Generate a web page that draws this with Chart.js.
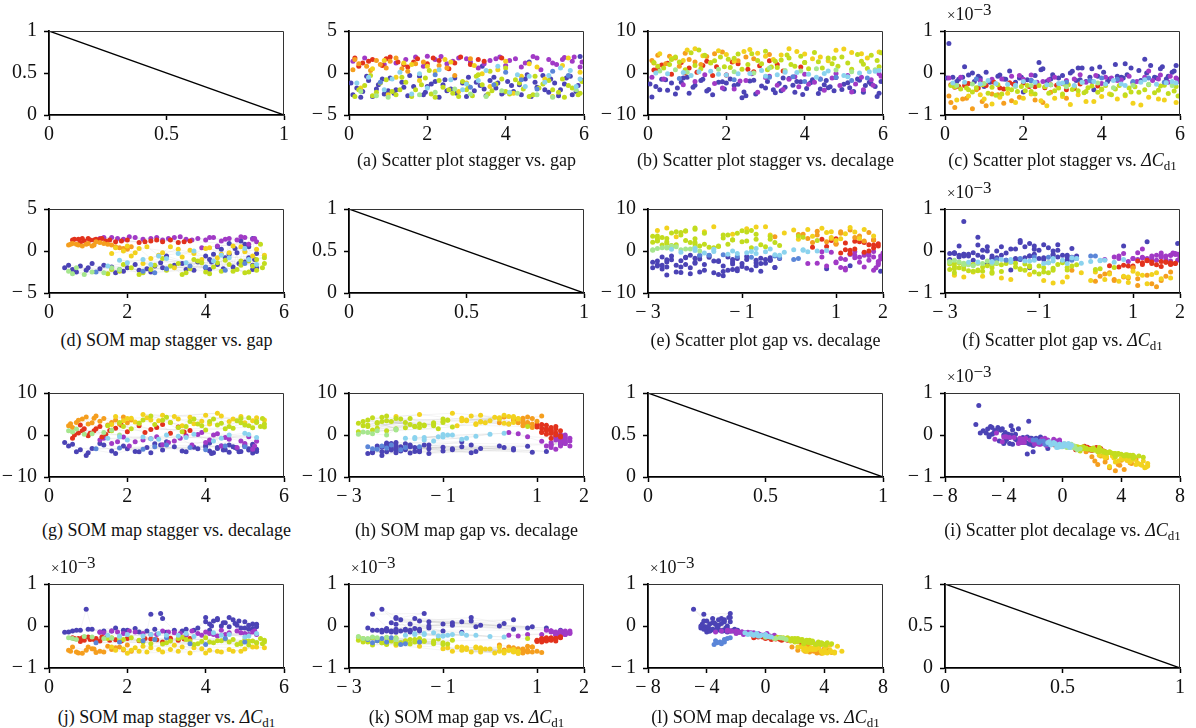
<!DOCTYPE html>
<html>
<head>
<meta charset="utf-8">
<script src="https://cdn.jsdelivr.net/npm/chart.js@4/dist/chart.umd.min.js"></script>
<style>
html,body{margin:0;padding:0;background:#fff;}
#fig{position:relative;width:1196px;height:728px;overflow:hidden;font-family:"Liberation Serif",serif;color:#111;}
#fig canvas{position:absolute;}
.cap{position:absolute;width:320px;text-align:center;font-size:18px;line-height:20px;white-space:nowrap;}
.cap sub{font-size:13px;vertical-align:-4px;line-height:0;}
.exp{position:absolute;font-size:18px;line-height:18px;white-space:nowrap;}
.exp .times{font-size:15px;}
.exp sup{font-size:17px;position:relative;top:-5px;vertical-align:baseline;}
</style>
</head>
<body>
<div id="fig"></div>
<script>
// Tick values for each variable axis
const staggerTicks = [0, 2, 4, 6];
const gapTicks = [-3, -1, 1, 2];
const gapYTicks = [-5, 0, 5];
const decalageYTicks = [-10, 0, 10];
const decalageXTicks = [-8, -4, 0, 4, 8];
const dcdTicks = [-1, 0, 1];          // ΔCd1 in units of 1e-3
const unitTicks = [0, 0.5, 1];

// Diagonal reference line
const diagX = [0, 1];
const diagY = [1, 0];

// Design samples by cluster: [stagger, gap, decalage, ΔCd1 (×1e-3)]
const scatterBlue = [
  [0.1,-2.6,-5.7,0.70],[0.2,-1.8,-3.2,-0.10],[0.35,-2.2,-1.5,-0.15],[0.5,-0.9,-4.1,0.15],
  [0.6,-2.8,-2.4,-0.05],[0.75,-1.4,-3.6,-0.20],[0.9,-2.5,-1.2,-0.12],[1.05,-0.6,-4.8,0.02],
  [1.2,-2.0,-2.9,-0.18],[1.35,-1.1,-1.8,-0.08],[1.5,-2.7,-4.3,-0.14],[1.65,-1.6,-5.2,0.05],
  [1.8,-0.4,-2.2,-0.22],[1.95,-2.3,-3.8,-0.10],[2.1,-1.3,-1.4,-0.16],[2.3,-2.9,-2.7,-0.06],
  [2.45,-0.8,-4.5,0.08],[2.6,-1.9,-1.9,-0.20],[2.75,-2.4,-5.0,-0.04],[2.9,-1.2,-3.1,-0.12],
  [3.05,-0.5,-2.0,-0.25],[3.2,-2.1,-4.0,0.00],[3.35,-1.5,-2.5,-0.18],[3.5,-2.7,-3.4,0.12],
  [3.6,-0.9,-1.3,-0.20],[3.75,-1.8,-4.6,0.10],[3.9,-2.5,-2.1,-0.08],[4.05,-1.0,-3.7,0.02],
  [4.2,-2.2,-1.6,-0.14],[4.35,-1.4,-4.9,0.20],[4.5,-0.7,-2.8,-0.10],[4.65,-2.8,-3.3,-0.04],
  [4.8,-1.7,-1.1,-0.22],[4.95,-0.3,-3.9,0.06],[5.1,-2.3,-2.3,0.33],[5.25,-1.2,-4.4,0.18],
  [5.4,-2.0,-1.7,-0.12],[5.55,-0.6,-3.0,0.15],[5.7,-2.6,-2.6,-0.08],[5.85,-1.5,-5.6,0.05],
  [5.95,-0.9,-2.0,-0.16],[2.0,-1.6,-2.4,-0.45],[4.6,1.3,-3.5,0.22],[3.4,0.8,-4.2,0.12],
  [5.9,1.95,-4.8,0.18],
  [0.05,-1.2,-2.6,-0.12],[0.3,-2.9,-4.0,-0.20],[0.45,-0.4,-1.6,-0.10],[0.7,-1.9,-5.0,0.00],
  [0.85,-0.7,-2.2,-0.08],[1.15,-2.4,-3.4,-0.22],[1.4,-1.7,-1.5,-0.05],[1.55,-0.3,-3.9,-0.15],
  [1.9,-2.6,-2.1,-0.12],[2.2,-1.0,-3.0,-0.18],[2.5,-2.1,-5.4,0.10],[2.7,-0.6,-1.7,-0.14],
  [3.0,-2.8,-3.6,-0.06],[3.25,-1.1,-4.7,0.04],[3.45,-1.9,-1.2,-0.16],[3.7,-0.5,-2.9,-0.10],
  [3.95,-2.3,-5.1,0.14],[4.15,-1.5,-2.3,-0.20],[4.4,-2.6,-3.8,-0.08],[4.55,-0.2,-1.8,-0.12],
  [4.75,-1.1,-4.2,0.12],[5.0,-2.0,-2.7,-0.18],[5.15,-0.7,-3.5,0.00],[5.35,-2.7,-1.4,-0.10],
  [5.5,-1.3,-4.6,0.10],[5.65,-0.4,-2.2,-0.14],[5.8,-2.2,-3.2,0.02],[2.4,-1.4,-5.9,0.25],
  [1.0,-2.1,-1.0,-0.32],[3.8,-1.2,-2.0,-0.40]
];
const scatterViolet = [
  [0.1,1.4,-1.0,-0.12],[1.7,1.9,-2.5,-0.08],[2.0,2.0,-0.5,-0.15],[2.2,1.6,-3.8,-0.05],
  [2.5,1.1,-1.8,-0.20],[2.8,1.8,-4.6,-0.10],[3.1,1.3,-0.8,-0.18],[3.3,0.6,-2.9,-0.14],
  [3.6,1.5,-1.5,-0.22],[3.85,1.9,-3.3,-0.06],[4.0,0.9,-0.3,-0.25],[4.25,1.7,-2.2,-0.12],
  [4.5,1.2,-4.1,-0.16],[4.7,1.95,-1.2,-0.08],[4.9,0.4,-3.0,-0.20],[5.1,1.6,-0.6,-0.10],
  [5.3,1.0,-2.6,-0.18],[5.5,1.85,-4.0,-0.05],[5.7,1.4,-1.6,-0.22],[5.9,0.7,-0.2,-0.12],
  [1.2,1.2,-2.0,-0.15],[3.0,1.7,-1.1,-0.25],
  [0.4,1.8,-1.4,-0.10],[0.9,1.0,-2.8,-0.18],[1.45,1.6,-0.4,-0.14],[1.9,0.8,-3.6,-0.06],
  [2.35,1.95,-1.9,-0.22],[2.65,1.4,-0.2,-0.16],[3.45,1.1,-3.9,-0.04],[3.75,1.7,-0.9,-0.20],
  [4.1,1.5,-2.7,-0.10],[4.4,0.7,-1.4,-0.18],[4.8,1.8,-0.1,-0.24],[5.2,1.2,-4.5,0.05],
  [5.45,1.6,-1.0,-0.14],[5.75,1.9,-2.9,-0.08],[5.95,1.3,-0.8,-0.20]
];
const scatterCyan = [
  [0.5,-0.5,-0.2,-0.22],[1.3,0.1,0.3,-0.25],[2.0,-1.8,-0.5,-0.20],[2.6,-0.8,-0.1,-0.28],
  [3.0,-1.3,-0.8,-0.24],[3.5,0.3,0.2,-0.22],[4.1,-2.3,-0.3,-0.26],[4.6,-0.4,0.5,-0.30],
  [5.0,-1.1,-0.6,-0.22],[5.4,0.6,0.0,-0.27],[5.8,-1.6,0.4,-0.20],[0.9,-2.0,0.1,-0.26],
  [4.3,-0.2,-1.0,-0.18],[5.9,-0.7,0.6,-0.24],[1.8,-0.1,-0.3,-0.29],
  [0.2,-1.2,0.0,-0.24],[1.1,-0.7,-0.6,-0.18],[1.6,-2.5,0.4,-0.27],[2.3,0.4,-0.2,-0.22],
  [2.9,-2.0,0.6,-0.25],[3.3,-0.9,-0.4,-0.30],[3.8,0.8,0.1,-0.20],[4.5,-1.6,-0.1,-0.26],
  [5.1,-0.3,-0.9,-0.16],[5.65,0.3,0.3,-0.23]
];
const scatterMidBlue = [
  [4.4,-0.8,-1.5,-0.15],[4.8,-1.9,-1.0,-0.20],[5.2,0.2,-1.8,-0.12],[3.7,-1.4,-0.9,-0.18],
  [5.6,-0.3,-1.2,-0.22],[0.8,-1.1,-1.3,-0.14],[2.2,-0.2,-1.6,-0.18],[3.1,-1.7,-1.0,-0.22],
  [4.0,0.1,-2.0,-0.12]
];
const scatterPaleGreen = [
  [0.3,-2.2,0.5,-0.30],[1.0,-2.9,0.2,-0.25],[1.8,-2.6,0.9,-0.32],[2.7,-1.9,0.0,-0.28],
  [3.5,-2.8,0.6,-0.22],[4.3,-2.4,1.0,-0.35],[5.2,-2.9,0.3,-0.27],[5.8,-2.0,0.8,-0.30],
  [0.7,-2.7,0.8,-0.26],[2.2,-2.3,0.3,-0.30],[3.1,-2.5,1.2,-0.33],[3.9,-2.1,0.5,-0.24],
  [4.8,-2.6,0.7,-0.29]
];
const scatterLime = [
  [0.15,-2.8,2.5,-0.30],[0.4,-1.5,1.2,-0.38],[0.7,-2.3,3.8,-0.45],[0.95,-0.8,0.8,-0.28],
  [1.2,-2.6,1.8,-0.34],[1.45,-1.1,4.2,-0.50],[1.7,-2.0,2.9,-0.40],[1.95,-0.6,1.5,-0.32],
  [2.2,-2.9,3.5,-0.44],[2.4,-1.7,0.9,-0.30],[2.65,-2.4,4.6,-0.48],[2.9,-1.0,2.2,-0.36],
  [3.15,-2.7,1.4,-0.28],[3.4,-1.4,3.1,-0.42],[3.65,-2.1,2.0,-0.35],[3.9,-0.7,4.0,-0.46],
  [4.1,-2.5,1.0,-0.30],[4.35,-1.2,2.7,-0.38],[4.6,-2.8,3.6,-0.52],[4.85,-1.8,1.6,-0.33],
  [5.1,-0.9,2.4,-0.40],[5.35,-2.3,4.4,-0.47],[5.6,-1.5,1.1,-0.29],[5.85,-2.6,3.0,-0.43],
  [5.95,-1.0,4.8,-0.55],[0.55,-0.3,2.0,-0.36],[2.05,0.3,3.3,-0.42],[3.0,-2.0,5.2,-0.50],
  [4.0,0.6,2.5,-0.39],[4.75,-0.4,3.5,-0.45],[5.5,-2.9,2.1,-0.31],[1.3,-2.0,5.5,-0.53],
  [3.3,-0.2,1.3,-0.33],
  [0.25,-2.0,1.6,-0.33],[0.6,-2.7,3.2,-0.40],[0.8,-1.2,2.6,-0.35],[1.1,-2.2,4.8,-0.48],
  [1.35,-0.5,1.0,-0.28],[1.6,-2.8,2.4,-0.37],[1.85,-1.4,3.8,-0.44],[2.1,-2.5,1.3,-0.30],
  [2.3,-0.9,4.5,-0.50],[2.55,-2.0,2.0,-0.33],[2.8,-2.8,3.0,-0.42],[3.05,-1.6,0.8,-0.27],
  [3.25,-0.4,2.8,-0.39],[3.55,-2.5,4.3,-0.47],[3.75,-1.3,1.6,-0.31],[4.0,-2.2,2.5,-0.38],
  [4.25,-0.8,4.9,-0.52],[4.45,-1.9,1.2,-0.30],[4.7,-2.6,2.2,-0.36],[4.95,-1.3,3.8,-0.46],
  [5.2,-2.0,0.9,-0.28],[5.45,-0.7,2.8,-0.41],[5.7,-1.8,4.2,-0.49],[5.9,-2.4,1.5,-0.32],
  [3.6,0.2,3.6,-0.44]
];
const scatterYellow = [
  [0.6,0.5,3.5,-0.55],[1.0,-2.6,5.5,-0.62],[1.4,1.2,4.1,-0.58],[1.8,-0.9,5.3,-0.70],
  [2.2,0.2,2.8,-0.50],[2.45,1.6,5.1,-0.66],[2.8,-2.2,4.7,-0.60],[3.2,0.9,3.2,-0.75],
  [3.6,-1.6,5.8,-0.68],[4.0,1.4,4.5,-0.56],[4.4,-0.4,3.8,-0.62],[4.8,0.7,5.4,-0.72],
  [5.2,-2.8,4.9,-0.58],[5.6,1.8,3.6,-0.64],[5.9,0.1,5.0,-0.70],[1.6,1.0,2.5,-0.48],
  [3.4,-0.1,4.3,-0.52],[2.6,1.3,5.6,-0.78],
  [0.3,-1.8,4.6,-0.64],[0.9,1.5,3.0,-0.52],[1.2,-0.5,5.8,-0.74],[2.0,0.8,4.4,-0.60],
  [3.0,-1.2,4.0,-0.56],[3.8,0.4,5.1,-0.68],[4.2,-2.4,3.4,-0.50],[4.6,1.1,2.9,-0.54],
  [5.0,-0.7,5.7,-0.76],[5.45,0.9,4.6,-0.62]
];
const scatterOrange = [
  [0.1,0.4,3.0,-0.55],[0.25,1.1,4.2,-0.82],[0.45,0.8,2.2,-0.62],[0.7,1.5,3.6,-0.85],
  [0.95,0.6,4.7,-0.68],[1.2,1.8,2.6,-0.50],[1.5,0.2,3.9,-0.72],[1.9,1.3,5.0,-0.58],
  [2.3,0.9,2.9,-0.64],[2.7,-0.3,3.4,-0.46],[3.1,1.7,4.4,-0.60],[0.8,1.0,1.6,-0.40],
  [0.15,1.6,2.4,-0.70],[0.55,0.3,4.0,-0.60],[1.05,1.4,3.2,-0.78],[1.35,0.5,2.0,-0.52],
  [1.7,1.1,4.6,-0.66],[2.5,0.6,3.8,-0.70]
];
const scatterRed = [
  [0.15,1.8,0.7,-0.28],[0.35,1.2,1.9,-0.32],[0.6,1.6,-0.3,-0.25],[0.85,0.9,2.5,-0.36],
  [1.05,1.9,1.2,-0.30],[1.25,1.3,0.2,-0.22],[1.5,0.7,2.8,-0.38],[1.75,1.7,1.5,-0.27],
  [2.0,1.1,-0.5,-0.24],[2.3,1.5,2.2,-0.33],[2.55,0.5,0.9,-0.35],[2.85,1.9,1.7,-0.29],
  [3.1,1.0,2.9,-0.40],[3.45,1.4,0.5,-0.26],[3.9,1.8,1.4,-0.31],
  [0.25,0.8,1.1,-0.34],[0.5,1.4,2.3,-0.30],[0.95,1.7,0.0,-0.26],[1.4,1.0,1.8,-0.36],
  [1.65,1.3,-0.6,-0.23],[2.15,1.8,2.6,-0.32],[2.7,1.2,0.3,-0.28],[3.3,1.6,2.0,-0.37]
];

// SOM node weights by cluster: [stagger, gap, decalage, ΔCd1 (×1e-3)]
const somBlue = [
  [0.4,-2.0,-1.8,-0.15],[0.6,-2.2,-2.2,-0.12],[0.8,-1.8,-3.5,-0.10],[0.95,-2.3,-4.9,0.40],
  [1.1,-1.5,-3.2,-0.08],[1.3,-2.1,-2.0,-0.14],[1.6,-1.9,-3.8,-0.12],[1.9,-2.4,-2.6,-0.10],
  [2.2,-1.6,-3.9,-0.06],[2.5,-2.1,-3.0,-0.12],[2.6,-2.5,-4.2,0.28],[2.85,-1.4,-2.4,0.30],
  [2.9,-2.0,-3.6,0.18],[3.2,-1.7,-2.8,-0.10],[3.5,-2.2,-4.0,-0.08],[3.8,-1.3,-3.3,-0.05],
  [4.0,-2.0,-2.5,0.20],[4.1,-1.0,-3.8,0.05],[4.2,-0.4,-4.2,0.12],[4.3,-1.6,-3.0,0.18],
  [4.4,0.2,-2.6,0.00],[4.5,-0.8,-3.5,0.08],[4.6,0.9,-4.1,-0.02],[4.7,-1.9,-2.8,0.15],
  [4.8,-0.2,-3.2,0.02],[4.9,1.2,-3.9,-0.05],[5.0,-1.3,-2.4,0.10],[5.1,0.5,-3.6,-0.08],
  [5.2,-1.7,-4.3,0.05],[5.25,-1.0,-2.9,-0.12],[5.3,-2.0,-3.4,0.04],[5.2,1.5,-2.2,-0.10],
  [4.1,-2.2,-1.9,-0.10],[3.0,-0.6,-1.6,-0.15],[1.7,-2.6,-4.4,-0.05],
  [0.5,-1.7,-2.6,-0.14],[0.7,-2.5,-4.0,-0.10],[1.0,-2.0,-4.2,-0.08],[1.4,-1.7,-2.4,-0.12],
  [2.0,-2.0,-3.3,-0.10],[2.3,-2.3,-4.0,-0.14],[2.7,-1.8,-2.1,-0.08],[3.4,-1.5,-3.8,-0.12],
  [3.7,-2.3,-2.9,-0.10],[4.0,-0.6,-2.8,0.10],[4.15,-1.3,-4.4,0.00],[4.3,0.5,-3.2,0.15],
  [4.45,-2.1,-3.6,0.08],[4.6,-0.4,-2.4,0.20],[4.75,0.3,-3.0,0.06],[4.85,-1.5,-4.0,0.12],
  [5.0,0.8,-2.7,-0.05],[5.1,-0.8,-3.3,0.02],[5.2,-2.2,-2.6,-0.06],[5.3,-0.3,-3.9,-0.02]
];
const somMidBlue = [
  [2.4,-2.4,-3.4,-0.35],[3.6,-1.8,-3.0,-0.42],[4.5,-2.3,-2.6,-0.30],[1.2,-2.5,-3.3,-0.40],
  [5.0,-1.5,-2.8,-0.38],[3.0,-2.1,-2.4,-0.28],[1.8,-2.2,-3.1,-0.38],[4.0,-1.9,-3.5,-0.44],
  [2.7,-2.6,-2.8,-0.32]
];
const somCyan = [
  [1.5,-1.8,-0.8,-0.22],[2.0,-1.4,-1.2,-0.20],[2.4,-1.0,-0.5,-0.24],[2.8,-0.6,-1.0,-0.18],
  [3.3,-0.3,-0.3,-0.22],[3.7,0.0,0.2,-0.25],[4.2,-1.2,-1.4,-0.16],[4.6,-0.8,0.0,-0.20],
  [5.0,0.3,0.4,-0.26],[5.3,-1.6,-0.6,-0.18],
  [1.8,-1.1,-0.4,-0.24],[2.6,-1.6,-0.9,-0.20],[3.0,-0.9,0.0,-0.22],[3.5,-1.4,-0.6,-0.18],
  [4.4,-0.5,-0.8,-0.22],[5.1,-1.0,0.1,-0.24]
];
const somPaleGreen = [
  [0.5,-2.4,1.0,-0.28],[0.9,-2.8,0.2,-0.25],[1.4,-2.6,0.6,-0.30],[0.7,-2.0,1.4,-0.32],
  [1.8,-2.2,0.0,-0.27],[1.1,-2.5,0.3,-0.26],[0.6,-2.7,0.7,-0.30],[1.6,-2.0,1.2,-0.29]
];
const somLime = [
  [1.5,-2.7,2.2,-0.30],[1.8,-2.4,3.0,-0.34],[2.1,-2.0,1.5,-0.28],[2.4,-2.6,3.6,-0.38],
  [2.7,-1.7,2.5,-0.32],[3.0,-2.3,4.2,-0.40],[3.3,-1.5,1.8,-0.30],[3.6,-2.1,3.2,-0.36],
  [3.8,-1.2,2.6,-0.42],[4.0,-2.5,1.2,-0.28],[4.2,-1.9,3.8,-0.40],[4.4,-2.4,2.8,-0.35],
  [4.6,-1.6,2.0,-0.38],[4.8,-2.2,3.4,-0.44],[5.0,-2.6,2.4,-0.33],[5.2,-1.8,1.7,-0.36],
  [5.3,-1.0,3.0,-0.40],[5.45,-2.0,3.9,-0.42],[4.5,-1.1,1.5,-0.31],[3.4,-2.8,0.8,-0.27],
  [2.9,-0.9,3.5,-0.43],[5.1,-2.5,4.1,-0.45],[3.9,-1.4,2.2,-0.37],[4.9,-1.2,2.9,-0.39],
  [5.5,-0.8,1.9,-0.34],
  [1.6,-2.2,1.0,-0.28],[1.9,-1.6,2.0,-0.32],[2.3,-2.8,2.8,-0.34],[2.6,-2.2,4.5,-0.42],
  [3.1,-1.8,3.0,-0.36],[3.5,-2.6,2.0,-0.32],[3.7,-1.0,3.8,-0.44],[4.1,-2.7,3.2,-0.38],
  [4.3,-1.4,2.4,-0.35],[4.7,-2.4,1.6,-0.32],[4.9,-1.7,3.9,-0.43],[5.1,-1.2,2.2,-0.36],
  [5.3,-2.3,3.2,-0.40],[5.5,-1.5,2.6,-0.38],[5.4,0.8,2.0,-0.30]
];
const somYellow = [
  [1.6,-0.3,2.5,-0.50],[1.9,0.0,3.4,-0.55],[2.1,-0.6,4.0,-0.58],[2.3,0.3,2.8,-0.60],
  [2.6,-0.9,3.6,-0.52],[2.9,-0.2,4.7,-0.62],[3.1,0.5,3.0,-0.56],[3.4,-0.7,2.2,-0.50],
  [3.6,0.1,4.2,-0.64],[3.9,-1.0,3.3,-0.54],[4.1,0.4,2.6,-0.58],[4.4,-0.4,4.5,-0.62],
  [4.7,0.6,3.8,-0.60],[5.0,-0.1,2.9,-0.55],[5.3,0.2,4.1,-0.50],[5.5,-0.5,3.6,-0.52],
  [2.4,-1.5,4.9,-0.48],[3.2,-2.0,4.4,-0.46],[4.3,-0.8,5.2,-0.60],[2.0,0.6,3.9,-0.65],
  [1.7,0.4,4.4,-0.58],[2.2,-0.2,3.1,-0.52],[2.5,0.5,4.1,-0.62],[2.8,-0.5,3.4,-0.56],
  [3.3,0.2,3.8,-0.60],[3.7,-0.3,2.7,-0.52],[4.0,0.3,4.7,-0.64],[4.6,-0.2,3.2,-0.56],
  [4.9,0.5,4.4,-0.60],[5.2,-0.6,3.4,-0.50]
];
const somOrange = [
  [0.5,0.7,2.2,-0.58],[0.7,0.8,3.0,-0.62],[0.85,0.6,3.8,-0.65],[1.0,0.9,2.6,-0.50],
  [1.15,0.7,4.0,-0.55],[1.3,1.0,3.3,-0.60],[1.5,0.8,2.4,-0.48],[1.7,0.5,3.6,-0.52],
  [1.9,0.3,4.3,-0.57],[2.0,0.2,2.9,-0.45],[1.2,1.1,4.5,-0.63],[0.6,0.9,1.8,-0.50],
  [0.55,0.8,2.7,-0.60],[0.75,0.7,3.5,-0.64],[0.95,0.8,4.3,-0.58],[1.1,0.6,2.9,-0.54],
  [1.4,0.9,3.9,-0.62],[1.6,0.7,3.0,-0.56],[1.8,0.4,2.6,-0.50],[2.1,0.5,3.6,-0.60]
];
const somRed = [
  [0.6,1.3,-0.8,-0.28],[0.75,1.4,0.5,-0.30],[0.9,1.2,1.5,-0.34],[1.0,1.5,-0.2,-0.26],
  [1.15,1.3,1.0,-0.32],[1.3,1.4,2.0,-0.36],[1.45,1.2,0.2,-0.28],[1.7,1.1,1.6,-0.33],
  [2.0,1.3,0.8,-0.30],[2.3,1.0,2.2,-0.35],[2.6,1.2,1.3,-0.31],[2.9,1.1,2.5,-0.38],
  [3.1,1.3,0.4,-0.29],[3.3,1.0,1.9,-0.34],[3.6,1.2,1.1,-0.30],[0.8,1.0,2.4,-0.37],
  [0.65,1.4,0.0,-0.30],[0.85,1.5,1.0,-0.28],[1.05,1.3,0.4,-0.32],[1.2,1.4,1.5,-0.30],
  [1.35,1.5,-0.5,-0.26],[1.55,1.3,1.1,-0.34],[1.85,1.2,2.3,-0.36],[2.45,1.1,0.6,-0.30],
  [2.75,1.3,1.8,-0.33],[3.45,1.1,0.7,-0.31]
];
const somViolet = [
  [1.3,1.5,-1.2,-0.15],[1.6,1.6,-2.0,-0.12],[1.9,1.4,-0.5,-0.18],[2.2,1.6,-1.6,-0.14],
  [2.6,1.5,-0.9,-0.20],[2.9,1.3,-2.3,-0.12],[3.2,1.6,-1.4,-0.16],[3.5,1.4,-0.2,-0.22],
  [3.8,1.5,0.1,-0.18],[4.0,1.3,-1.8,-0.14],[4.2,1.6,0.0,-0.20],[4.4,1.2,-2.6,-0.10],
  [4.6,1.5,-1.0,-0.16],[4.8,1.3,-3.0,-0.12],[5.0,1.6,-2.0,-0.18],[5.2,1.4,-3.4,-0.14],
  [5.3,1.1,-1.5,-0.20],[3.9,0.4,0.6,-0.22],[4.3,0.6,0.3,-0.24],[5.1,0.8,-0.4,-0.20],
  [1.4,1.6,-0.8,-0.16],[1.75,1.5,-1.6,-0.14],[2.05,1.7,-2.6,-0.12],[2.4,1.4,-1.2,-0.18],
  [2.75,1.6,-0.4,-0.20],[3.05,1.5,-1.8,-0.14],[3.35,1.7,-0.8,-0.18],[3.65,1.3,-2.4,-0.12],
  [4.1,1.6,-1.2,-0.18],[4.5,1.4,-0.6,-0.20],[4.9,1.7,-1.4,-0.16],[5.25,1.5,-2.6,-0.12]
];

// Cluster colours
const clusterColors = {
  blue: '#4b43b5', midBlue: '#5b86d8', cyan: '#8bd3ee', paleGreen: '#a6e68e',
  lime: '#c2dc1e', yellow: '#f2d21e', orange: '#f59e1e', red: '#e2321c', violet: '#a13ac6'
};
const scatterGroups = [
  ['cyan', scatterCyan], ['paleGreen', scatterPaleGreen], ['midBlue', scatterMidBlue],
  ['lime', scatterLime], ['yellow', scatterYellow], ['orange', scatterOrange],
  ['red', scatterRed], ['violet', scatterViolet], ['blue', scatterBlue]
];
const somGroups = [
  ['cyan', somCyan], ['paleGreen', somPaleGreen], ['midBlue', somMidBlue],
  ['lime', somLime], ['yellow', somYellow], ['orange', somOrange],
  ['red', somRed], ['violet', somViolet], ['blue', somBlue]
];

const COL = {stagger: 0, gap: 1, decalage: 2, dcd: 3};
const AX = {
  stagger: {min: 0, max: 6, ticks: staggerTicks},
  gapX: {min: -3, max: 2, ticks: gapTicks},
  gapY: {min: -5, max: 5, ticks: gapYTicks},
  decY: {min: -10, max: 10, ticks: decalageYTicks},
  decX: {min: -8, max: 8, ticks: decalageXTicks},
  dcd: {min: -1, max: 1, ticks: dcdTicks},
  unit: {min: 0, max: 1, ticks: unitTicks}
};
const DCD = '<i>\u0394C</i><sub>d1</sub>';
const panels = [
  {r:0,c:0,kind:'diag'},
  {r:0,c:1,kind:'scatter',x:'stagger',y:'gap',xa:'stagger',ya:'gapY',cap:'(a) Scatter plot stagger vs. gap'},
  {r:0,c:2,kind:'scatter',x:'stagger',y:'decalage',xa:'stagger',ya:'decY',cap:'(b) Scatter plot stagger vs. decalage'},
  {r:0,c:3,kind:'scatter',x:'stagger',y:'dcd',xa:'stagger',ya:'dcd',cap:'(c) Scatter plot stagger vs. '+DCD},
  {r:1,c:0,kind:'som',x:'stagger',y:'gap',xa:'stagger',ya:'gapY',cap:'(d) SOM map stagger vs. gap'},
  {r:1,c:1,kind:'diag'},
  {r:1,c:2,kind:'scatter',x:'gap',y:'decalage',xa:'gapX',ya:'decY',cap:'(e) Scatter plot gap vs. decalage'},
  {r:1,c:3,kind:'scatter',x:'gap',y:'dcd',xa:'gapX',ya:'dcd',cap:'(f) Scatter plot gap vs. '+DCD},
  {r:2,c:0,kind:'som',x:'stagger',y:'decalage',xa:'stagger',ya:'decY',cap:'(g) SOM map stagger vs. decalage'},
  {r:2,c:1,kind:'som',x:'gap',y:'decalage',xa:'gapX',ya:'decY',cap:'(h) SOM map gap vs. decalage'},
  {r:2,c:2,kind:'diag'},
  {r:2,c:3,kind:'scatter',x:'decalage',y:'dcd',xa:'decX',ya:'dcd',cap:'(i) Scatter plot decalage vs. '+DCD},
  {r:3,c:0,kind:'som',x:'stagger',y:'dcd',xa:'stagger',ya:'dcd',cap:'(j) SOM map stagger vs. '+DCD},
  {r:3,c:1,kind:'som',x:'gap',y:'dcd',xa:'gapX',ya:'dcd',cap:'(k) SOM map gap vs. '+DCD},
  {r:3,c:2,kind:'som',x:'decalage',y:'dcd',xa:'decX',ya:'dcd',cap:'(l) SOM map decalage vs. '+DCD},
  {r:3,c:3,kind:'diag'}
];

// Grid geometry of the plot areas
const colLeft = [49, 349, 648, 945];
const rowTop = [26, 204, 388, 579];
const PW = 235, PH = 89;
const capCenterY = [160, 340, 530, 717];

const fig = document.getElementById('fig');
const FONT = 'Liberation Serif';

function fmt(v) {
  if (v === 0) return '0';
  return (v < 0 ? '\u2212\u2009' : '') + String(Math.abs(v));
}

function axisOpts(a, dir, size) {
  return {
    type: 'linear', min: a.min, max: a.max,
    afterBuildTicks: s => { s.ticks = a.ticks.map(v => ({value: v})); },
    afterFit: s => { if (dir === 'x') s.height = size; else s.width = size; },
    ticks: {font: {family: FONT, size: 20}, color: '#111', padding: dir === 'x' ? 3 : 7,
            maxRotation: 0, autoSkip: false, callback: v => fmt(v)},
    grid: {display: true, drawOnChartArea: false, drawTicks: true, tickLength: 5,
           tickWidth: 1.5, tickColor: '#000', color: '#000'},
    border: {display: true, color: '#000', width: 1.8}
  };
}

// Thin frame on the top and right sides of each plot area
const framePlugin = {
  id: 'frame',
  afterDraw(chart) {
    const {ctx, chartArea: a} = chart;
    ctx.save();
    ctx.strokeStyle = '#333';
    ctx.lineWidth = 1;
    ctx.beginPath();
    ctx.moveTo(a.left, a.top + 0.5);
    ctx.lineTo(a.right - 0.5, a.top + 0.5);
    ctx.lineTo(a.right - 0.5, a.bottom);
    ctx.stroke();
    ctx.restore();
  }
};

function pointsFor(rows, xv, yv) {
  return rows.map(r => ({x: r[COL[xv]], y: r[COL[yv]]}));
}

function buildDatasets(p) {
  if (p.kind === 'diag') {
    return [{type: 'line', data: diagX.map((x, i) => ({x, y: diagY[i]})), showLine: true,
             borderColor: '#000', borderWidth: 1.3, pointRadius: 0, fill: false}];
  }
  const groups = p.kind === 'som' ? somGroups : scatterGroups;
  const ds = [];
  groups.forEach(([name, rows]) => {
    ds.push({data: pointsFor(rows, p.x, p.y), backgroundColor: clusterColors[name],
             borderWidth: 0, pointRadius: 2.5, pointHoverRadius: 2.5, order: 1});
  });
  if (p.kind === 'som') {
    // faint neighbourhood links between the map nodes
    const mesh = [];
    groups.forEach(([name, rows]) => {
      pointsFor(rows, p.x, p.y).forEach(pt => mesh.push(pt));
      mesh.push({x: null, y: null});
    });
    ds.push({type: 'line', data: mesh, showLine: true, spanGaps: false,
             borderColor: 'rgba(170,170,170,0.13)', borderWidth: 1, pointRadius: 0, order: 20});
  }
  return ds;
}

panels.forEach(p => {
  const L = 64, T = 14, R = 16, B = 36;
  const w = L + PW + R, h = T + PH + B;
  const cv = document.createElement('canvas');
  cv.width = w; cv.height = h;
  cv.style.left = (colLeft[p.c] - L) + 'px';
  cv.style.top = (rowTop[p.r] - T) + 'px';
  cv.style.width = w + 'px'; cv.style.height = h + 'px';
  fig.appendChild(cv);
  const xa = AX[p.kind === 'diag' ? 'unit' : p.xa];
  const ya = AX[p.kind === 'diag' ? 'unit' : p.ya];
  new Chart(cv, {
    type: 'scatter',
    data: {datasets: buildDatasets(p)},
    options: {
      responsive: false, animation: false, devicePixelRatio: 1,
      layout: {padding: {left: 0, top: T, right: R, bottom: 0}},
      plugins: {legend: {display: false}, tooltip: {enabled: false}},
      events: [],
      scales: {x: axisOpts(xa, 'x', B), y: axisOpts(ya, 'y', L)}
    },
    plugins: [framePlugin]
  });
  if (p.cap) {
    const d = document.createElement('div');
    d.className = 'cap';
    d.innerHTML = p.cap;
    d.style.left = (colLeft[p.c] + PW / 2 - 160) + 'px';
    d.style.top = (capCenterY[p.r] - 10) + 'px';
    fig.appendChild(d);
  }
  if (p.ya === 'dcd') {
    const e = document.createElement('div');
    e.className = 'exp';
    e.innerHTML = '<span class="times">\u00d7</span>10<sup>\u22123</sup>';
    e.style.left = (colLeft[p.c] + 2) + 'px';
    e.style.top = (rowTop[p.r] - 21) + 'px';
    fig.appendChild(e);
  }
});
</script>
</body>
</html>
